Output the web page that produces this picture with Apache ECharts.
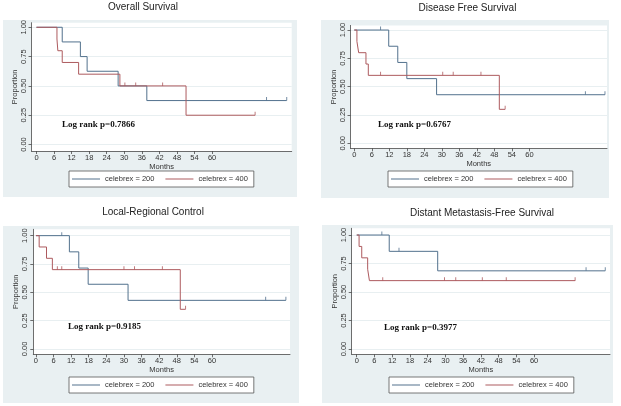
<!DOCTYPE html>
<html>
<head>
<meta charset="utf-8">
<script src="https://cdn.jsdelivr.net/npm/echarts@6/dist/echarts.min.js"></script>
<style>
  html, body { margin: 0; padding: 0; background: #fff; }
  #chart { width: 621px; height: 406px; }
</style>
</head>
<body>
<div id="chart"></div>
<script>
// ── values (months / proportion) ──
const monthTicks = [0, 6, 12, 18, 24, 30, 36, 42, 48, 54, 60];
const propTicks = [0, 0.25, 0.5, 0.75, 1];
const groupNames = ['celebrex = 200', 'celebrex = 400'];
const panelTitles = ['Overall Survival', 'Disease Free Survival', 'Local-Regional Control', 'Distant Metastasis-Free Survival'];
const logRankP = ['0.7866', '0.6767', '0.9185', '0.3977'];

// Overall survival
const osTime200 = [0, 8.8, 15.0, 17.3, 27.9, 37.7, 85.5];
const osSurv200 = [1, 0.875, 0.75, 0.625, 0.5, 0.375, 0.375];
const osCens200 = [78.6, 85.5];
const osTime400 = [0, 7.0, 7.3, 8.8, 14.4, 28.5, 51.1, 74.7];
const osSurv400 = [1, 0.9, 0.8, 0.7, 0.6, 0.5, 0.25, 0.25];
const osCens400 = [30.2, 33.9, 43.1, 74.7];

// Disease free survival
const dfsTime200 = [0, 11.8, 14.9, 18.0, 28.2, 85.9];
const dfsSurv200 = [1, 0.857, 0.714, 0.571, 0.429, 0.429];
const dfsCens200 = [9.0, 79.2, 85.9];
const dfsTime400 = [0, 0.9, 1.5, 4.0, 4.8, 49.7, 51.7];
const dfsSurv400 = [1, 0.9, 0.8, 0.7, 0.6, 0.3, 0.3];
const dfsCens400 = [9.0, 30.3, 33.9, 43.4, 51.7];

// Local-regional control
const lrcTime200 = [0, 11.4, 14.6, 17.8, 31.4, 85.2];
const lrcSurv200 = [1, 0.857, 0.714, 0.571, 0.429, 0.429];
const lrcCens200 = [8.8, 78.3, 85.2];
const lrcTime400 = [0, 1.1, 3.6, 5.6, 49.2, 51.0];
const lrcSurv400 = [1, 0.9, 0.8, 0.7, 0.35, 0.35];
const lrcCens400 = [7.3, 8.8, 30.0, 33.6, 43.1, 51.0];

// Distant metastasis-free survival
const dmTime200 = [0, 11.0, 27.4, 84.1];
const dmSurv200 = [1, 0.857, 0.686, 0.686];
const dmCens200 = [8.5, 14.3, 77.6, 84.1];
const dmTime400 = [0, 0.8, 1.7, 3.7, 4.3, 73.9];
const dmSurv400 = [1, 0.9, 0.8, 0.7, 0.6, 0.6];
const dmCens400 = [8.8, 29.7, 33.5, 42.5, 50.6, 73.9];

const curves = [
  [[osTime200, osSurv200, osCens200], [osTime400, osSurv400, osCens400]],
  [[dfsTime200, dfsSurv200, dfsCens200], [dfsTime400, dfsSurv400, dfsCens400]],
  [[lrcTime200, lrcSurv200, lrcCens200], [lrcTime400, lrcSurv400, lrcCens400]],
  [[dmTime200, dmSurv200, dmCens200], [dmTime400, dmSurv400, dmCens400]],
];

// ── layout (pixels) for each panel ──
const LAYOUT = [
  { bg: [3, 20, 294, 177],  grid: [31.5, 22.7, 260.2, 128.3], x: [-1.7, 87.2], y: [-0.055, 1.039], title: [143, 2],   legend: [69, 171],  text: [62, 125] },
  { bg: [321, 20, 288, 178], grid: [350.5, 25.4, 256.5, 122.9], x: [-1.3, 86.6], y: [-0.044, 1.041], title: [467.5, 3], legend: [388, 171], text: [378, 125] },
  { bg: [3, 226, 296, 177], grid: [33.3, 229.3, 256.7, 125], x: [-0.9, 86.6], y: [-0.047, 1.056], title: [153, 207], legend: [69, 377], text: [68, 327] },
  { bg: [322, 225, 291, 178], grid: [351.7, 228.3, 258.3, 126], x: [-1.7, 85.7], y: [-0.046, 1.059], title: [482, 208], legend: [389, 377], text: [384, 328] },
];

const COLORS = ['#52718d', '#ad5a5e'];
const SANS = 'Liberation Sans';
const AXIS = '#4a4a4a';
const LEGEND_LINE = 'path://M0,0H28V1H0Z';

function survAt(times, surv, t) {
  let s = surv[0];
  for (let i = 0; i < times.length; i++) if (times[i] <= t) s = surv[i];
  return s;
}

const grids = [], xAxes = [], yAxes = [], titles = [], legends = [], series = [], graphics = [];

LAYOUT.forEach((L, p) => {
  graphics.push({ type: 'rect', z: -100, shape: { x: L.bg[0], y: L.bg[1], width: L.bg[2], height: L.bg[3] }, style: { fill: '#e9f0f2' } });
  graphics.push({
    type: 'text', z: 100, x: L.text[0], y: L.text[1],
    style: { text: 'Log rank p=' + logRankP[p], font: 'bold 9px "Liberation Serif"', fill: '#111', verticalAlign: 'middle' },
  });
  grids.push({ left: L.grid[0], top: L.grid[1], width: L.grid[2], height: L.grid[3], show: true, backgroundColor: '#fff', borderWidth: 0 });
  titles.push({
    text: panelTitles[p], left: L.title[0], top: L.title[1], textAlign: 'center', padding: 0,
    textStyle: { fontFamily: SANS, fontSize: 10, fontWeight: 'normal', color: '#222' },
  });
  legends.push({
    data: groupNames.map(n => ({ name: n, icon: LEGEND_LINE })),
    left: L.legend[0], top: L.legend[1], orient: 'horizontal',
    padding: [4, 6, 4, 3], itemGap: 11, itemWidth: 28, itemHeight: 1,
    backgroundColor: '#fff', borderColor: '#555', borderWidth: 0.8, borderRadius: 0,
    selectedMode: false, textStyle: { fontFamily: SANS, fontSize: 7.5, color: '#333' },
  });
  xAxes.push({
    gridIndex: p, type: 'value', min: L.x[0], max: L.x[1],
    name: 'Months', nameLocation: 'middle', nameGap: 11,
    nameTextStyle: { fontFamily: SANS, fontSize: 7.5, color: '#333' },
    axisLine: { onZero: false, lineStyle: { color: AXIS, width: 0.8 } },
    axisTick: { customValues: monthTicks, length: 3, lineStyle: { color: AXIS, width: 0.8 } },
    axisLabel: { customValues: monthTicks, margin: 3, fontFamily: SANS, fontSize: 7.5, color: '#333' },
    splitLine: { show: false },
  });
  yAxes.push({
    gridIndex: p, type: 'value', min: L.y[0], max: L.y[1],
    name: 'Proportion', nameLocation: 'middle', nameGap: 13, nameRotate: 90,
    nameTextStyle: { fontFamily: SANS, fontSize: 7.5, color: '#333' },
    axisLine: { show: true, onZero: false, lineStyle: { color: AXIS, width: 0.8 } },
    axisTick: { show: true, customValues: propTicks, length: 3, lineStyle: { color: AXIS, width: 0.8 } },
    axisLabel: { customValues: propTicks, rotate: 90, margin: 4, fontFamily: SANS, fontSize: 7.5, color: '#333', formatter: v => v.toFixed(2) },
    splitLine: { show: true, lineStyle: { color: '#e8eff1', width: 1 } },
  });

  curves[p].forEach(([times, surv, cens], g) => {
    series.push({
      name: groupNames[g], type: 'line', step: 'end', xAxisIndex: p, yAxisIndex: p,
      symbol: 'none', silent: true, animation: false, z: 3,
      lineStyle: { color: COLORS[g], width: 1 }, itemStyle: { color: COLORS[g] },
      data: times.map((t, i) => [t, surv[i]]),
    });
    series.push({
      type: 'scatter', xAxisIndex: p, yAxisIndex: p, silent: true, animation: false, z: 4,
      symbol: 'rect', symbolSize: [1, 3.5], symbolOffset: [0, -1.75],
      itemStyle: { color: COLORS[g] },
      data: cens.map(t => [t, survAt(times, surv, t)]),
    });
  });
});

const chart = echarts.init(document.getElementById('chart'), null, { renderer: 'canvas' });
chart.setOption({
  backgroundColor: '#fff',
  animation: false,
  title: titles,
  legend: legends,
  grid: grids,
  xAxis: xAxes,
  yAxis: yAxes,
  series: series,
  graphic: { elements: graphics },
});
</script>
</body>
</html>
